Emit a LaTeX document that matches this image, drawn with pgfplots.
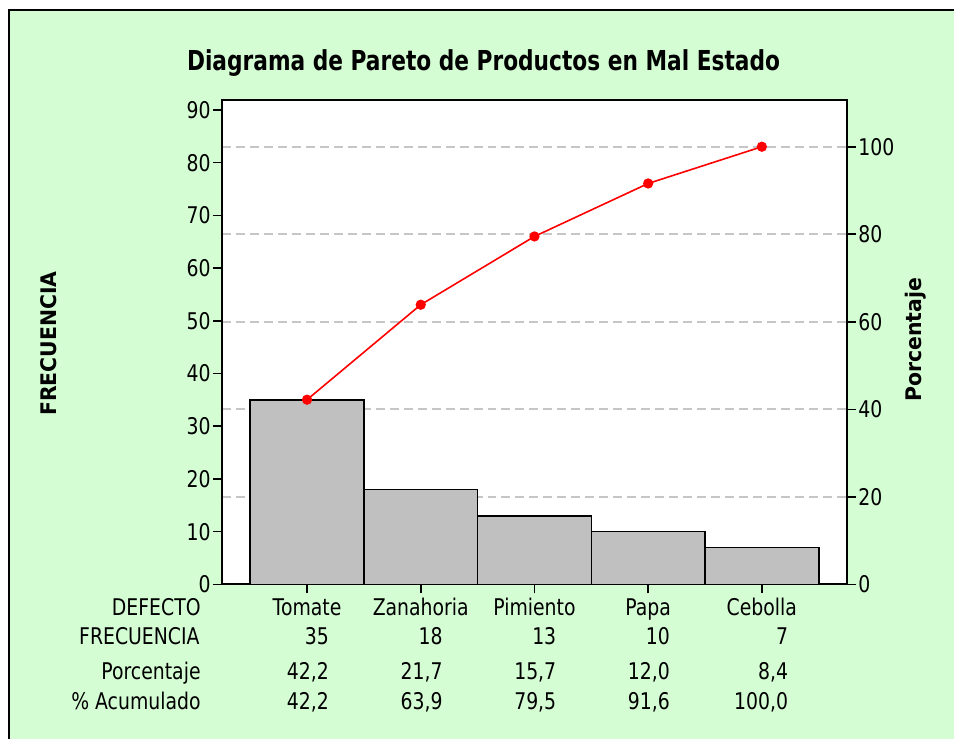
\documentclass[border=0pt]{standalone}
\usepackage{fontspec}
\usepackage{pgfplots}
\pgfplotsset{compat=1.18}
\newfontfamily\regfont{DejaVu Sans}[FakeStretch=0.82]
\newfontfamily\boldfont{DejaVu Sans}[FakeStretch=0.79]
\newfontfamily\labfont{DejaVu Sans}[FakeStretch=0.95]
\definecolor{bggreen}{RGB}{213,253,212}
\definecolor{bargray}{RGB}{192,192,192}
\definecolor{gridgray}{RGB}{198,198,198}
\newcommand\tf{\regfont\fontsize{23bp}{26bp}\selectfont}
\pgfplotsset{
  pareto/.style={
    scale only axis, width=626bp, height=485bp,
    at={(222bp,-585bp)}, anchor=south west,
    xmin=-0.75, xmax=4.75,
    tick align=outside, major tick length=9bp,
    every tick/.style={black, line width=1.6bp},
    axis line style={black, line width=2bp},
    tick label style={font=\tf},
    /pgf/number format/assume math mode=true,
  }
}
\begin{document}
\begin{tikzpicture}[x=1bp,y=1bp]
\fill[white] (0,0) rectangle (955,-740);
\fill[bggreen] (9.5,-10) rectangle (955,-740);
\draw[black, line width=2bp] (9.5,-740) -- (9.5,-10) -- (955,-10);

% title and axis labels
\node[anchor=base, inner sep=0pt, font=\boldfont\bfseries\fontsize{27.5bp}{30bp}\selectfont] at (484,-71) {Diagrama de Pareto de Productos en Mal Estado};
\node[anchor=base, rotate=90, inner sep=0pt, font=\labfont\bfseries\fontsize{21.5bp}{26bp}\selectfont] at (56.7,-344) {FRECUENCIA};
\node[anchor=base, rotate=90, inner sep=0pt, font=\labfont\bfseries\fontsize{21.5bp}{26bp}\selectfont] at (922.5,-340) {Porcentaje};

% right axis: background and grid
\begin{axis}[pareto, ymin=0, ymax=110.7,
  xtick=\empty, ytick={0,20,...,100},
  ytick pos=right, yticklabel pos=right,
  ymajorgrids, grid style={gridgray, line width=1.8bp, dash pattern=on 9bp off 5bp},
  axis background/.style={fill=white},
  yticklabel style={inner sep=2bp}]
\addplot[draw=none] coordinates {(0,0)};
\end{axis}

% left axis: bars and table
\begin{axis}[pareto, ymin=0, ymax=91.9, clip=false,
  ytick={0,10,...,90}, ytick pos=left,
  xtick={0,1,2,3,4}, xtick pos=bottom, xticklabels={,,,,},
  yticklabel style={inner sep=2bp}]
\addplot[ybar, bar width=1, fill=bargray, draw=black, line width=1.6bp]
  coordinates {(0,35) (1,18) (2,13) (3,10) (4,7)};
% category names
\addplot[draw=none, mark=none, nodes near coords, point meta=explicit symbolic,
  every node near coord/.append style={font=\tf, anchor=base, inner sep=0pt}]
  table[x=x, y=y, meta=lab] {
x y lab
0 -5.87 Tomate
1 -5.87 Zanahoria
2 -5.87 Pimiento
3 -5.87 Papa
4 -5.87 Cebolla
};
% frecuencia
\addplot[draw=none, mark=none, nodes near coords, point meta=explicit symbolic,
  every node near coord/.append style={font=\tf, anchor=base east, inner sep=0pt, xshift=22bp}]
  table[x=x, y=y, meta=lab] {
x y lab
0 -11.37 35
1 -11.37 18
2 -11.37 13
3 -11.37 10
4.04 -11.37 7
};
% porcentaje
\addplot[draw=none, mark=none, nodes near coords, point meta=explicit symbolic,
  every node near coord/.append style={font=\tf, anchor=base east, inner sep=0pt, xshift=22bp}]
  table[x=x, y=y, meta=lab] {
x y lab
0 -18.0 42,2
1 -18.0 21,7
2 -18.0 15,7
3 -18.0 12,0
4.04 -18.0 8,4
};
% acumulado
\addplot[draw=none, mark=none, nodes near coords, point meta=explicit symbolic,
  every node near coord/.append style={font=\tf, anchor=base east, inner sep=0pt, xshift=22bp}]
  table[x=x, y=y, meta=lab] {
x y lab
0 -23.69 42,2
1 -23.69 63,9
2 -23.69 79,5
3 -23.69 91,6
4.04 -23.69 100,0
};
\end{axis}

% cumulative line (right scale)
\begin{axis}[pareto, ymin=0, ymax=110.7, hide axis]
\addplot[red, line width=1.6bp, mark=*, mark size=4.3bp, mark options={fill=red, draw=red}]
  coordinates {(0,42.2) (1,63.9) (2,79.5) (3,91.6) (4,100)};
\end{axis}

% row labels
\node[anchor=base east, inner sep=0pt, font=\tf] at (201,-616) {DEFECTO};
\node[anchor=base east, inner sep=0pt, font=\tf] at (200,-645) {FRECUENCIA};
\node[anchor=base east, inner sep=0pt, font=\tf] at (201,-680) {Porcentaje};
\node[anchor=base east, inner sep=0pt, font=\tf] at (201,-710) {\% Acumulado};
\end{tikzpicture}
\end{document}
